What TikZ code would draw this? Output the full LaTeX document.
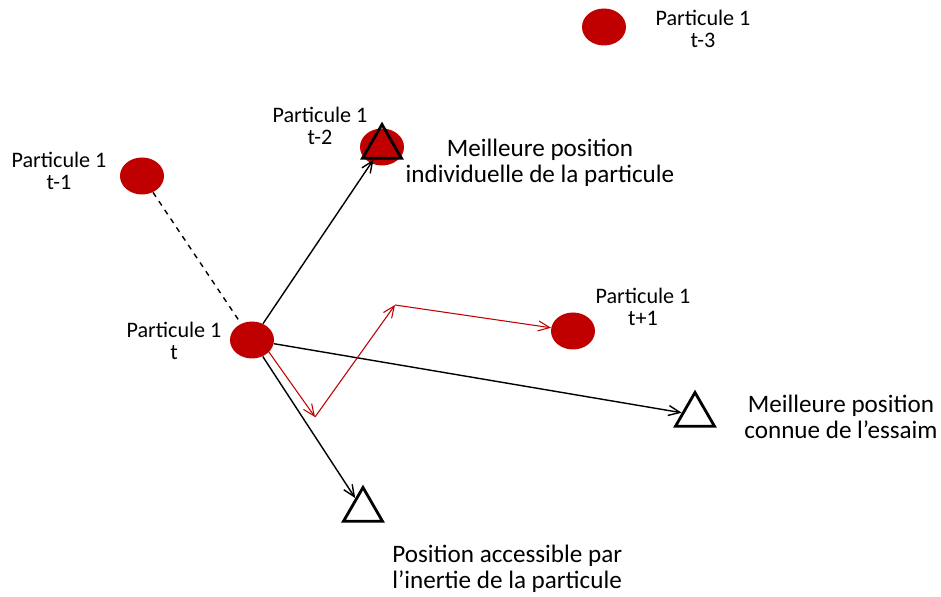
\documentclass[tikz,border=0pt]{standalone}
\usepackage{fontspec}
\setmainfont{Carlito}
\usepackage{xcolor}
\usetikzlibrary{positioning, arrows.meta, calc, shapes.geometric}

\definecolor{pred}{HTML}{C00000}

\begin{document}
\begin{tikzpicture}[x=0.02cm, y=-0.02cm,
  particle/.style={ellipse, fill=pred, minimum width=0.88cm, minimum height=0.74cm, inner sep=0pt},
  best/.style={regular polygon, regular polygon sides=3, draw, line width=1.6pt, minimum size=0.9cm, inner sep=0pt},
  lbl/.style={align=center, font=\fontsize{12.6}{12.5}\selectfont},
  biglbl/.style={align=center, font=\fontsize{14.3}{14.7}\selectfont},
  move/.style={-{Straight Barb[length=2.3mm,width=2mm]}, line width=0.8pt},
  redmove/.style={-{Straight Barb[length=2.3mm,width=2mm]}, draw=pred, line width=0.6pt}]
\useasboundingbox (0,0) rectangle (941,597);

% particles
\node[particle](p3) at (604,27){};
\node[particle](p2) at (382,147){};
\node[particle](p1) at (142,176){};
\node[particle](pt) at (252,340){};
\node[particle](p4) at (573,331){};

% best positions
\node[best](bestind) at (382,147){};
\node[best](bestsw) at (695,415){};
\node[best](inertia) at (363,510){};

% labels
\node[lbl](lbl3) at (703,29){Particule 1\\t-3};
\node[lbl](lbl2) at (320,126){Particule 1\\t-2};
\node[lbl](lbl1) at (59,171){Particule 1\\t-1};
\node[lbl](lblt) at (174,341){Particule 1\\t};
\node[lbl](lbl4) at (643,307){Particule 1\\t+1};
\node[biglbl](txtind) at (540,163){Meilleure position\\individuelle de la particule};
\node[biglbl](txtsw) at (841,417){Meilleure position\\connue de l’essaim};
\node[biglbl, align=left, anchor=west, inner xsep=0pt](txtin) at (392,569){Position accessible par\\l’inertie de la particule};

% moves
\draw[dashed, line width=0.8pt] (p1) -- (pt);
\draw[move] (pt) -- (bestind);
\draw[move] (pt) -- (bestsw);
\draw[move] (pt) -- (inertia);

\coordinate (r1) at (315,417);
\coordinate (r2) at (395,305);
\draw[redmove] ($(pt)+(7,-2)$) -- (r1);
\draw[redmove] (r1) -- (r2);
\draw[redmove] (r2) -- (p4);
\end{tikzpicture}
\end{document}
